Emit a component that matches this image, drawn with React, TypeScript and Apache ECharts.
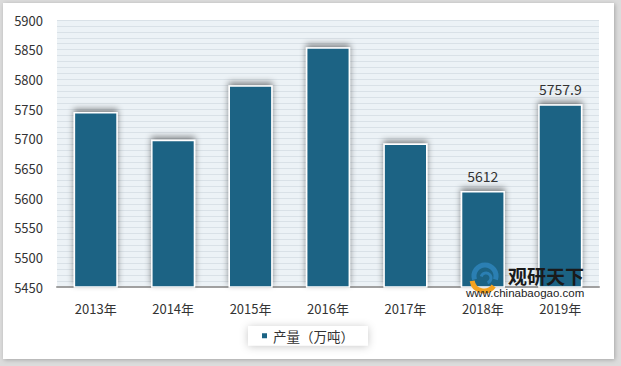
import React, { useEffect, useRef } from "react";
import * as echarts from "echarts";

const categories = ["2013年", "2014年", "2015年", "2016年", "2017年", "2018年", "2019年"];
const production = [5745, 5698, 5790, 5854, 5692, 5612, 5757.9];
const labeledYears = ["2018年", "2019年"];
const seriesName = "产量（万吨）";

const FONT = "'Noto Sans CJK SC', 'Noto Sans', sans-serif";

export default function App() {
  const ref = useRef<HTMLDivElement>(null);
  useEffect(() => {
    const chart = echarts.init(ref.current!, null, { renderer: "svg" });
    chart.setOption({
      animation: false,
      backgroundColor: "#dcdcdc",
      textStyle: { fontFamily: FONT },
      graphic: [
        {
          type: "rect",
          z: -10,
          shape: { x: 3, y: 3, width: 611, height: 356 },
          style: { fill: "#ffffff", shadowBlur: 4, shadowColor: "rgba(0,0,0,0.25)", shadowOffsetX: 1, shadowOffsetY: 1 },
          silent: true,
        },
        { type: "arc", z: 100, shape: { cx: 485, cy: 276, r: 11, startAngle: Math.PI * 0.9, endAngle: Math.PI * 2.1 }, style: { stroke: "#2b7fb3", lineWidth: 5, fill: "none" } },
        { type: "arc", z: 100, shape: { cx: 486, cy: 278, r: 5, startAngle: Math.PI * 1.1, endAngle: Math.PI * 2.4 }, style: { stroke: "#2b7fb3", lineWidth: 3, fill: "none" } },
        { type: "arc", z: 100, shape: { cx: 484, cy: 279, r: 12, startAngle: Math.PI * 0.2, endAngle: Math.PI * 0.95 }, style: { stroke: "#f3a21f", lineWidth: 5, fill: "none" } },
        { type: "text", z: 100, x: 508, y: 275, style: { text: "观研天下", font: "bold 19px 'Noto Sans CJK SC'", lineHeight: 19, fill: "#1a1a1a", verticalAlign: "middle" } },
        { type: "text", z: 100, x: 466, y: 293, style: { text: "www.chinabaogao.com", font: "11.5px 'Liberation Sans', Arial", lineHeight: 11, fill: "#222", verticalAlign: "middle" } },
      ],
      grid: {
        left: 57,
        right: 22,
        top: 20,
        bottom: 79,
        show: true,
        backgroundColor: "#ecf2f6",
        borderWidth: 0,
      },
      legend: {
        data: [seriesName],
        left: 248,
        top: 326,
        padding: [3, 14, 3, 12],
        backgroundColor: "#ffffff",
        shadowBlur: 8,
        shadowColor: "rgba(0,0,0,0.22)",
        shadowOffsetY: 1,
        itemWidth: 7,
        itemHeight: 7,
        icon: "rect",
        textStyle: { fontSize: 13.5, color: "#333", fontFamily: FONT },
      },
      xAxis: {
        type: "category",
        data: categories,
        axisLine: { show: true, lineStyle: { color: "#a0a0a0", width: 2 } },
        axisTick: { show: false },
        axisLabel: { color: "#333", fontSize: 13, lineHeight: 14, margin: 14, fontFamily: FONT },
      },
      yAxis: {
        type: "value",
        min: 5450,
        max: 5900,
        interval: 50,
        axisLine: { show: false },
        axisTick: { show: false },
        axisLabel: { color: "#333", fontSize: 13, margin: 14, fontFamily: FONT, formatter: (v: number) => String(v) },
        splitLine: { show: true, lineStyle: { color: "#d9e1e7", width: 1 } },
        minorTick: { show: false, splitNumber: 5 },
        minorSplitLine: { show: true, lineStyle: { color: "#d9e1e7", width: 1 } },
      },
      series: [
        {
          name: seriesName,
          type: "bar",
          barWidth: "57%",
          data: production.map((v, i) => ({
            value: v,
            label: {
              show: labeledYears.includes(categories[i]),
              position: "top",
              distance: 8,
              fontSize: 14,
              color: "#333",
              fontFamily: FONT,
            },
          })),
          itemStyle: {
            color: "#1b6384",
            borderColor: "#ffffff",
            borderWidth: 1.5,
            shadowBlur: 6,
            shadowOffsetY: -3,
            shadowColor: "rgba(0,0,0,0.45)",
          },
        },
      ],
    });
    return () => chart.dispose();
  }, []);
  return (
    <div
      ref={ref}
      style={{ position: "absolute", left: 0, top: 0, width: 621, height: 366 }}
    />
  );
}
